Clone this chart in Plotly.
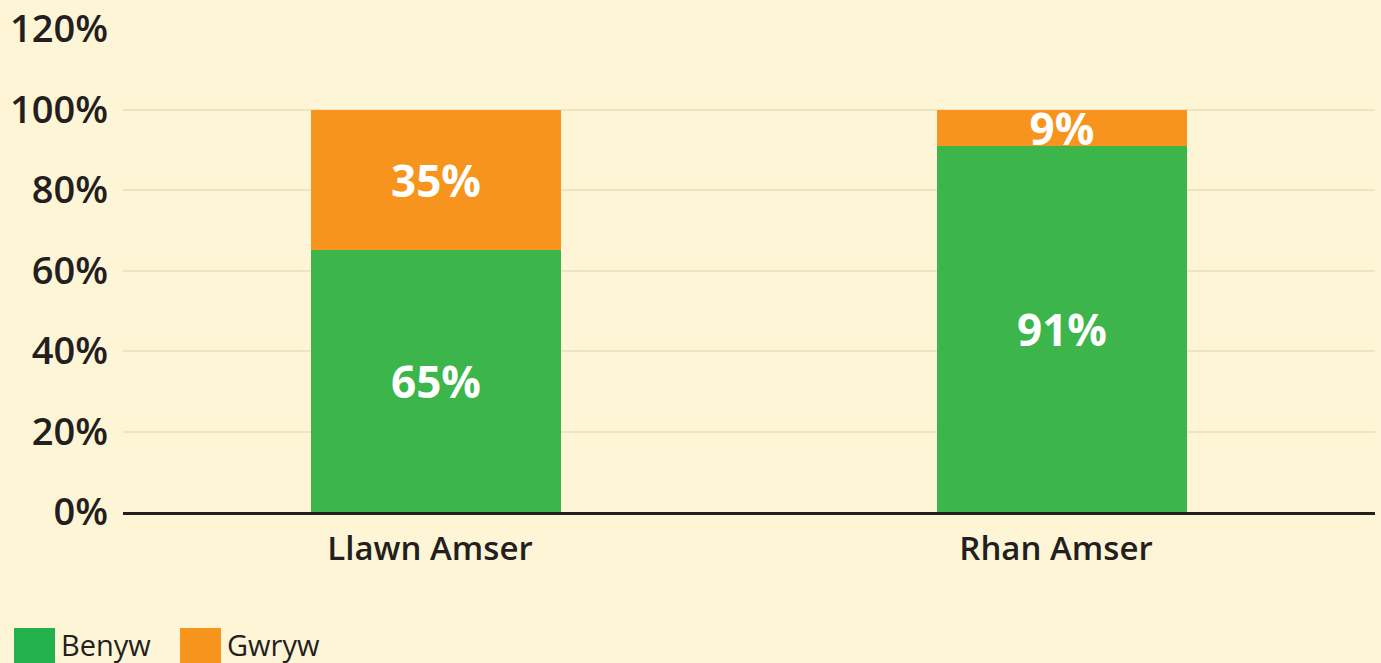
import plotly.graph_objects as go

categories = ["Llawn Amser", "Rhan Amser"]
benyw = [65, 91]
gwryw = [35, 9]
series_names = ["Benyw", "Gwryw"]
tick_vals = [0, 20, 40, 60, 80, 100, 120]
tick_text = ["0%", "20%", "40%", "60%", "80%", "100%", "120%"]

bar_colors = ["#3cb54a", "#f7941d"]
legend_colors = ["#22b14c", "#f7941d"]
bg = "#fdf5d5"
font_fam = "Open Sans"

fig = go.Figure()
for name, vals, col in zip(series_names, [benyw, gwryw], bar_colors):
    fig.add_trace(go.Bar(
        x=categories, y=vals, name=name, marker_color=col,
        marker_line_width=0,
        text=[f"{v}%" for v in vals], textposition="inside",
        insidetextanchor="middle",
        textfont=dict(color="white", size=44, family=font_fam, weight=700),
        showlegend=False, hoverinfo="skip",
    ))

fig.update_layout(
    barmode="stack", bargap=0.6,
    width=1381, height=663,
    paper_bgcolor=bg, plot_bgcolor=bg,
    margin=dict(l=123, r=6, t=29, b=151, autoexpand=False),
    uniformtext=dict(minsize=44, mode="show"),
    font=dict(family=font_fam, color="#231f20"),
)
fig.update_yaxes(range=[0, 120], tickvals=tick_vals, ticktext=tick_text,
                 showgrid=True, gridcolor="#ede5c0", gridwidth=2,
                 zeroline=False, ticks="", ticklabelstandoff=14, automargin=False,
                 tickfont=dict(size=38, family=font_fam, weight=600, color="#231f20"))
fig.update_xaxes(showline=True, linecolor="#231f20", linewidth=2.5,
                 ticks="", ticklabelstandoff=6, ticklabelshift=-6, automargin=False,
                 tickfont=dict(size=33, family=font_fam, weight=600, color="#231f20"))

# custom legend (large swatches)
lx = [14, 180]
for i, (name, col) in enumerate(zip(series_names, legend_colors)):
    fig.add_shape(type="rect", xref="paper", yref="paper",
                  x0=(lx[i] - 123) / 1252, x1=(lx[i] + 41 - 123) / 1252,
                  y0=-(663 - 512 + 2) / 483, y1=-(628 - 512) / 483,
                  fillcolor=col, line_width=0)
    fig.add_annotation(xref="paper", yref="paper",
                       x=(lx[i] + 45 - 123) / 1252, y=-(644 - 512) / 483,
                       text=name, showarrow=False, xanchor="left", yanchor="middle",
                       font=dict(size=29, family=font_fam, color="#231f20"))

fig.write_html(
    "out.html",
    config={"displayModeBar": False},
    post_script="document.body.style.margin='0';document.body.style.background='#fdf5d5';",
)
